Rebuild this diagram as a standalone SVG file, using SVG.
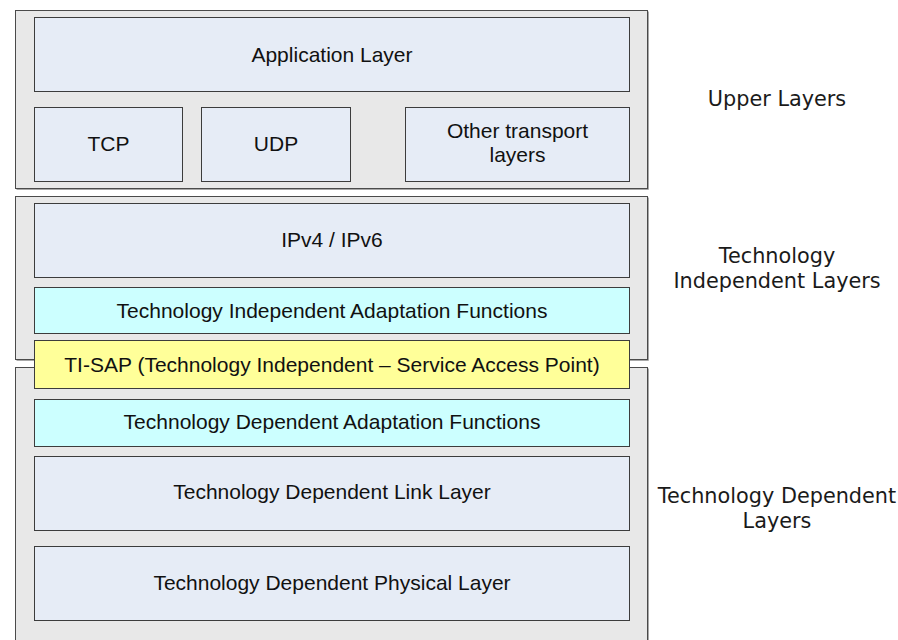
<svg xmlns="http://www.w3.org/2000/svg" width="898" height="640" viewBox="0 0 898 640">
  <style>
    .frame { fill: #e8e8e8; stroke: #4a4a4a; stroke-width: 1; }
    .shadow { fill: none; stroke: #a8a8a8; stroke-width: 1; }
    .box { stroke: #3c3c3c; stroke-width: 1; }
    .blue { fill: #e6ecf6; }
    .cyan { fill: #ccffff; }
    .yellow { fill: #ffff99; }
    .lbl { font-family: "Liberation Sans", Arial, sans-serif; font-size: 21px; fill: #111; text-anchor: middle; }
    .side { font-family: "DejaVu Sans", Verdana, sans-serif; font-size: 20.8px; fill: #1a1a1a; text-anchor: middle; }
  </style>
  <rect width="898" height="640" fill="#ffffff"/>

  <g id="upper-layers">
    <path class="shadow" d="M648.5 11.5 V189.5 H16.5"/>
    <rect class="frame" x="15.5" y="10.5" width="632" height="178"/>
    <text class="side" x="777" y="106">Upper Layers</text>
  </g>

  <g id="technology-dependent-layers">
    <rect class="frame" x="15.5" y="367.5" width="632" height="280"/>
    <path class="shadow" d="M648.5 368.5 V640"/>
    <text class="side" x="777" y="503">Technology Dependent</text>
    <text class="side" x="777" y="528">Layers</text>
  </g>

  <g id="technology-independent-layers">
    <path class="shadow" d="M648.5 197.5 V360.5 H16.5"/>
    <rect class="frame" x="15.5" y="196.5" width="632" height="163"/>
    <text class="side" x="777" y="263">Technology</text>
    <text class="side" x="777" y="288">Independent Layers</text>
  </g>

  <g id="application-layer">
    <rect class="box blue" x="34.5" y="17.5" width="595" height="74"/>
    <text class="lbl" x="332" y="62">Application Layer</text>
  </g>

  <g id="tcp">
    <rect class="box blue" x="34.5" y="107.5" width="148" height="74"/>
    <text class="lbl" x="108.5" y="151">TCP</text>
  </g>

  <g id="udp">
    <rect class="box blue" x="201.5" y="107.5" width="149" height="74"/>
    <text class="lbl" x="276" y="151">UDP</text>
  </g>

  <g id="other-transport">
    <rect class="box blue" x="405.5" y="107.5" width="224" height="74"/>
    <text class="lbl" x="517.5" y="138">Other transport</text>
    <text class="lbl" x="517.5" y="162">layers</text>
  </g>

  <g id="ip">
    <rect class="box blue" x="34.5" y="203.5" width="595" height="74"/>
    <text class="lbl" x="332" y="247">IPv4 / IPv6</text>
  </g>

  <g id="ti-adaptation">
    <rect class="box cyan" x="34.5" y="287.5" width="595" height="46"/>
    <text class="lbl" x="332" y="318">Technology Independent Adaptation Functions</text>
  </g>

  <g id="ti-sap">
    <rect class="box yellow" x="34.5" y="340.5" width="595" height="48"/>
    <text class="lbl" x="332" y="372">TI-SAP (Technology Independent – Service Access Point)</text>
  </g>

  <g id="td-adaptation">
    <rect class="box cyan" x="34.5" y="399.5" width="595" height="47"/>
    <text class="lbl" x="332" y="429">Technology Dependent Adaptation Functions</text>
  </g>

  <g id="td-link">
    <rect class="box blue" x="34.5" y="456.5" width="595" height="74"/>
    <text class="lbl" x="332" y="499">Technology Dependent Link Layer</text>
  </g>

  <g id="td-physical">
    <rect class="box blue" x="34.5" y="546.5" width="595" height="74"/>
    <text class="lbl" x="332" y="590">Technology Dependent Physical Layer</text>
  </g>

  <g id="connectors"/>
</svg>
